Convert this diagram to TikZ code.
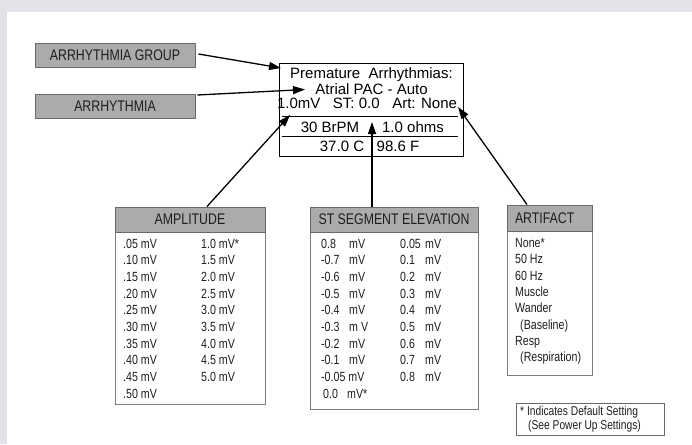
\documentclass[tikz,border=0pt]{standalone}
\usepackage{fontspec}
\setmainfont{Liberation Sans}
\newfontfamily\cnd[FakeStretch=0.8]{Liberation Sans}
\usetikzlibrary{arrows.meta,calc}
\definecolor{framegray}{RGB}{226,227,232}
\definecolor{fillgray}{RGB}{171,171,171}
\definecolor{edgegray}{RGB}{105,105,105}
\definecolor{bodyedge}{RGB}{125,125,125}
\definecolor{inkgray}{RGB}{30,30,30}
\begin{document}
\begin{tikzpicture}[x=1pt,y=-1pt,
 labelbox/.style={draw=edgegray,fill=fillgray,line width=0.9pt,inner sep=0pt,font=\cnd\fontsize{15.4}{17}\selectfont,text=inkgray},
 headbox/.style={draw=edgegray,fill=fillgray,line width=0.9pt,inner sep=0pt,font=\cnd\fontsize{15.4}{17}\selectfont,text=inkgray},
 bodybox/.style={draw=bodyedge,fill=white,line width=0.9pt,inner sep=0pt},
 item/.style={anchor=base west,inner sep=0pt,font=\cnd\fontsize{13.3}{15}\selectfont,text=inkgray},
 notetext/.style={anchor=base west,inner sep=0pt,font=\cnd\fontsize{12.8}{14}\selectfont,text=inkgray},
 disptext/.style={anchor=base,inner sep=0pt,font=\fontsize{15}{17}\selectfont},
 pointer/.style={draw=black,line width=1.3pt,-{Triangle[length=12pt,width=8pt]}},
 rule/.style={draw=black,line width=1pt},
]
\useasboundingbox (0,0) rectangle (692,444);
\fill[framegray] (0,0) rectangle (692,444);
\fill[white] (7,12) rectangle (692,444);

% left labels
\node[labelbox,minimum width=160pt,minimum height=24pt] (grp) at (115,55.5) {ARRHYTHMIA GROUP};
\node[labelbox,minimum width=160pt,minimum height=24pt] (arr) at (115,106) {ARRHYTHMIA};

% display box
\node[draw=black,line width=1pt,minimum width=184pt,minimum height=93pt,inner sep=0pt] (disp) at (371,109.5) {};
\node[disptext] (l1) at (371.5,78) {Premature\ \ Arrhythmias:};
\node[disptext] (l2) at (371.5,94) {Atrial PAC - Auto};
\node[disptext] (l3) at (367,108) {\makebox[180pt]{1.0mV\hfill ST: 0.0\hfill Art: None}};
\draw[rule] (282,116) -- (458,116);
\draw[rule] (282,136) -- (458,136);
\node[disptext] (r1a) at (330,132) {30 BrPM};
\node[disptext] (r1b) at (413,132) {1.0 ohms};
\node[disptext] (r2a) at (342,151) {37.0 C};
\node[disptext] (r2b) at (398,151) {98.6 F};

% AMPLITUDE
\node[bodybox,minimum width=150pt,minimum height=172pt] (ampb) at (190,318) {};
\node[headbox,minimum width=150pt,minimum height=25pt] (amph) at (190,219.5) {AMPLITUDE};
\foreach \t [count=\i] in {.05,.10,.15,.20,.25,.30,.35,.40,.45,.50}
  \node[item] (ampa\i) at (123,{248.3+16.67*(\i-1)}) {\t\ mV};
\foreach \t [count=\i] in {1.0 mV*,1.5 mV,2.0 mV,2.5 mV,3.0 mV,3.5 mV,4.0 mV,4.5 mV,5.0 mV}
  \node[item] (ampc\i) at (201,{248.3+16.67*(\i-1)}) {\t};

% ST SEGMENT ELEVATION
\node[bodybox,minimum width=168pt,minimum height=177pt] (stb) at (394,320.5) {};
\node[headbox,minimum width=168pt,minimum height=25pt] (sth) at (394,219.5) {ST SEGMENT ELEVATION};
\foreach \t/\u [count=\i] in {0.8/mV,-0.7/mV,-0.6/mV,-0.5/mV,-0.4/mV,-0.3/m V,-0.2/mV,-0.1/mV}{
  \node[item] (sta\i) at (321,{248.3+16.67*(\i-1)}) {\t};
  \node[item] (stu\i) at (349,{248.3+16.67*(\i-1)}) {\u};
}
\node[item] (sta9) at (321,{248.3+16.67*8}) {-0.05 mV};
\node[item] (sta10) at (323,{248.3+16.67*9}) {0.0};
\node[item] (stu10) at (347,{248.3+16.67*9}) {mV*};
\foreach \t [count=\i] in {0.05,0.1,0.2,0.3,0.4,0.5,0.6,0.7,0.8}{
  \node[item] (stc\i) at (400,{248.3+16.67*(\i-1)}) {\t};
  \node[item] (stv\i) at (425,{248.3+16.67*(\i-1)}) {mV};
}

% ARTIFACT
\node[bodybox,minimum width=85pt,minimum height=144pt] (artb) at (549.5,303) {};
\node[headbox,minimum width=85pt,minimum height=26pt,text width=69pt,align=left] (arth) at (549.5,218) {ARTIFACT};
\foreach \t/\x [count=\i] in {None*/515,50 Hz/515,60 Hz/515,Muscle/515,Wander/515,(Baseline)/520,Resp/515,(Respiration)/520}
  \node[item] (arti\i) at (\x,{247.5+16.3*(\i-1)}) {\t};

% footnote
\node[draw=edgegray,line width=0.9pt,minimum width=148pt,minimum height=32pt,inner sep=0pt] (note) at (590,419) {};
\node[notetext] (note1) at (520,415.5) {* Indicates Default Setting};
\node[notetext] (note2) at (528,429.5) {(See Power Up Settings)};

% pointers
\coordinate (tgrp) at (281,68);
\coordinate (tarr) at (305,89.5);
\coordinate (tamp) at (290,115);
\coordinate (tst) at (372,122);
\coordinate (tart) at (458,107);
\draw[pointer] ($(grp.east)+(3,-1.5)$) -- (tgrp);
\draw[pointer] ($(arr.east)+(2,-11)$) -- (tarr);
\draw[pointer] ($(amph.north)+(17,0)$) -- (tamp);
\draw[pointer] ($(sth.north)+(-22,0)$) -- (tst);
\draw[pointer] ($(arth.north)+(-22.5,0)$) -- (tart);
\end{tikzpicture}
\end{document}
